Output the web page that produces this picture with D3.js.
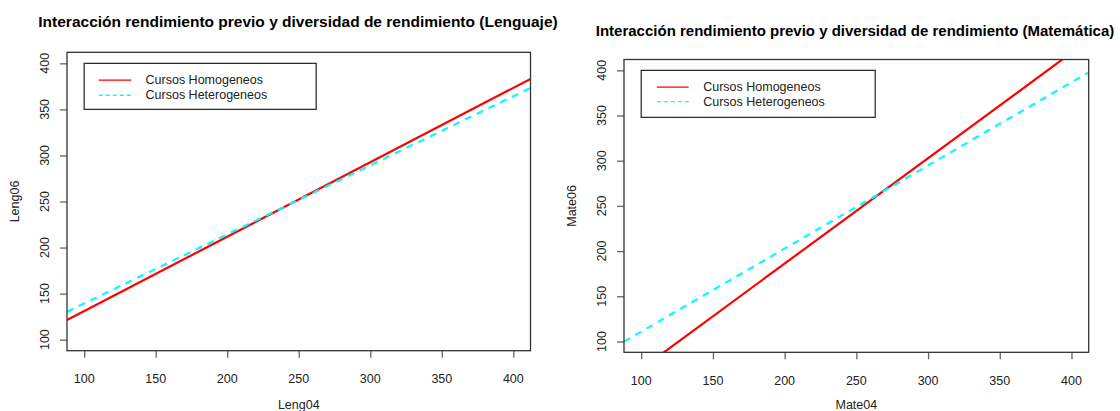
<!DOCTYPE html>
<html>
<head>
<meta charset="utf-8">
<script src="https://cdn.jsdelivr.net/npm/d3@7"></script>
<style>
  html, body { margin: 0; padding: 0; background: #fff; }
  svg { display: block; font-family: "Liberation Sans", Arial, sans-serif; }
</style>
</head>
<body>
<svg id="chart" width="1120" height="411"></svg>
<script>
// Shared tick values for both axes of both panels
const tickValues = [100, 150, 200, 250, 300, 350, 400];
const axisDomain = [88, 412];

// Series labels
const seriesNames = ["Cursos Homogeneos", "Cursos Heterogeneos"];

// Lenguaje: fitted lines, value at each end of the x range
const lengX = [88, 412];
const lengHomogeneos = [121.3, 383.1];
const lengHeterogeneos = [130.3, 373.3];

// Matemática: fitted lines, value at each end of the x range
const mateX = [88, 412];
const mateHomogeneos = [55.5, 433.5];
const mateHeterogeneos = [99.8, 397.8];

const panels = [
  {
    title: "Interacción rendimiento previo y diversidad de rendimiento (Lenguaje)",
    xLabel: "Leng04", yLabel: "Leng06",
    x: lengX, series: [lengHomogeneos, lengHeterogeneos],
    box: { x0: 67, x1: 530.5, y0: 52.3, y1: 350.7 },
    titleY: 27, titleSize: 15.5, titleX: 298,
    xTickY: 383, xLabelY: 409, yTickX: 45, yLabelX: 15,
    legend: { w: 232, h: 46, lineX0: 14.6, lineX1: 47, textX: 61.4, row1: 16.7, row2: 31.9 }
  },
  {
    title: "Interacción rendimiento previo y diversidad de rendimiento (Matemática)",
    xLabel: "Mate04", yLabel: "Mate06",
    x: mateX, series: [mateHomogeneos, mateHeterogeneos],
    box: { x0: 624, x1: 1088.7, y0: 59.5, y1: 352.3 },
    titleY: 36, titleSize: 15, titleX: 855,
    xTickY: 385, xLabelY: 409, yTickX: 601.5, yLabelX: 572,
    legend: { w: 234, h: 47, lineX0: 15.7, lineX1: 47.5, textX: 62, row1: 16.7, row2: 31.3 }
  }
];

const styles = [
  { color: "#FF0000", dash: null },
  { color: "#00FFFF", dash: "7,6" }
];

const svg = d3.select("#chart");
svg.append("rect").attr("width", 1120).attr("height", 411).attr("fill", "#fff");

panels.forEach((p, i) => {
  const b = p.box;
  const x = d3.scaleLinear().domain(axisDomain).range([b.x0, b.x1]);
  const y = d3.scaleLinear().domain(axisDomain).range([b.y1, b.y0]);
  const g = svg.append("g");

  // clip region for the fitted lines
  const clipId = "clip" + i;
  svg.append("defs").append("clipPath").attr("id", clipId)
    .append("rect").attr("x", b.x0).attr("y", b.y0)
    .attr("width", b.x1 - b.x0).attr("height", b.y1 - b.y0);

  // title
  g.append("text")
    .attr("x", p.titleX).attr("y", p.titleY)
    .attr("text-anchor", "middle")
    .attr("font-size", p.titleSize).attr("font-weight", "bold").attr("fill", "#000")
    .text(p.title);

  // x axis
  const xAxis = g.append("g").attr("transform", `translate(0,${b.y1})`)
    .call(d3.axisBottom(x).tickValues(tickValues).tickSize(7).tickFormat(d3.format("d")));
  xAxis.select(".domain").remove();
  xAxis.selectAll(".tick line").attr("stroke", "#666").attr("stroke-width", 1.3);
  xAxis.selectAll(".tick text").remove();
  g.selectAll(null).data(tickValues).join("text")
    .attr("x", d => x(d)).attr("y", p.xTickY)
    .attr("text-anchor", "middle").attr("font-size", 12.5).attr("fill", "#222")
    .text(d => d);

  // y axis
  const yAxis = g.append("g").attr("transform", `translate(${b.x0},0)`)
    .call(d3.axisLeft(y).tickValues(tickValues).tickSize(7));
  yAxis.select(".domain").remove();
  yAxis.selectAll(".tick line").attr("stroke", "#666").attr("stroke-width", 1.3);
  yAxis.selectAll(".tick text").remove();
  g.selectAll(null).data(tickValues).join("text")
    .attr("transform", d => `translate(${p.yTickX},${y(d)}) rotate(-90)`)
    .attr("text-anchor", "middle").attr("dominant-baseline", "central")
    .attr("font-size", 12.5).attr("fill", "#222")
    .text(d => d);

  // axis titles
  g.append("text")
    .attr("x", (b.x0 + b.x1) / 2).attr("y", p.xLabelY)
    .attr("text-anchor", "middle").attr("font-size", 12.5).attr("fill", "#222")
    .text(p.xLabel);
  g.append("text")
    .attr("transform", `translate(${p.yLabelX},${(b.y0 + b.y1) / 2}) rotate(-90)`)
    .attr("text-anchor", "middle").attr("dominant-baseline", "central")
    .attr("font-size", 12.5).attr("fill", "#222")
    .text(p.yLabel);

  // fitted lines
  const line = d3.line().x(d => x(d[0])).y(d => y(d[1]));
  p.series.forEach((vals, k) => {
    const pts = p.x.map((xv, j) => [xv, vals[j]]);
    g.append("path")
      .attr("d", line(pts))
      .attr("clip-path", `url(#${clipId})`)
      .attr("fill", "none")
      .attr("stroke", styles[k].color)
      .attr("stroke-width", 2.2)
      .attr("stroke-dasharray", styles[k].dash);
  });

  // plot frame
  g.append("rect")
    .attr("x", b.x0).attr("y", b.y0)
    .attr("width", b.x1 - b.x0).attr("height", b.y1 - b.y0)
    .attr("fill", "none").attr("stroke", "#333").attr("stroke-width", 1.3);

  // legend anchored at (100, 400)
  const L = p.legend;
  const lg = g.append("g").attr("transform", `translate(${x(100)},${y(400)})`);
  lg.append("rect").attr("width", L.w).attr("height", L.h)
    .attr("fill", "#fff").attr("stroke", "#222").attr("stroke-width", 1.2);
  [L.row1, L.row2].forEach((ry, k) => {
    lg.append("line")
      .attr("x1", L.lineX0).attr("x2", L.lineX1).attr("y1", ry).attr("y2", ry)
      .attr("stroke", styles[k].color).attr("stroke-width", 1.3)
      .attr("stroke-dasharray", styles[k].dash ? "4,3" : null);
    lg.append("text")
      .attr("x", L.textX).attr("y", ry).attr("dominant-baseline", "central")
      .attr("font-size", 12.5).attr("fill", "#222")
      .text(seriesNames[k]);
  });
});
</script>
</body>
</html>
